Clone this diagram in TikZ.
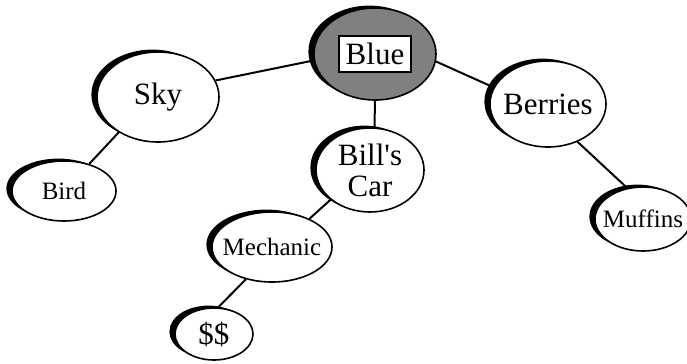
\documentclass[tikz,border=0pt]{standalone}
\usepackage{fontspec}
\setmainfont{Liberation Serif}
\usetikzlibrary{shapes,shadows}
\usetikzlibrary{positioning,calc}

\begin{document}
\begin{tikzpicture}[x=0.5pt,y=-0.5pt,every text node part/.style={align=center}]
\tikzset{bigFont/.style={font=\fontsize{15.5}{15.5}\selectfont}}
\tikzset{smallFont/.style={font=\fontsize{12.5}{13}\selectfont}}
\tikzset{myBubble/.style={ellipse,draw,line width=0.8pt,fill=white,inner sep=0pt,inner xsep=-15pt,general shadow={fill=black,shadow xshift=-2.8pt,shadow yshift=1.2pt}}}
\tikzset{myGray/.style={fill=black!50}}
\tikzset{myEdge/.style={line width=1pt}}

\useasboundingbox (0,0) rectangle (687,364);

\node[myBubble,myGray,minimum width=61pt,minimum height=46pt] (blue) at (375,54) {};
\node[draw,fill=white,line width=0.8pt,bigFont,minimum width=36pt,minimum height=18pt,inner sep=0pt] (blueBox) at (blue.center) {Blue};

\node[myBubble,bigFont,minimum width=61pt,minimum height=45pt] (sky) at ([shift={(-217,43)}]blue.center) {Sky};
\node[myBubble,bigFont,minimum width=58pt,minimum height=43pt] (berries) at ([shift={(173,50)}]blue.center) {Berries};
\node[myBubble,bigFont,minimum width=54pt,minimum height=42pt] (bill) at ([shift={(-5,116)}]blue.center) {Bill\textquotesingle s\\Car};

\node[myBubble,smallFont,minimum width=52pt,minimum height=30pt] (bird) at ([shift={(-94,94)}]sky.center) {Bird};
\node[myBubble,smallFont,minimum width=60pt,minimum height=35pt] (mechanic) at ([shift={(-98,77)}]bill.center) {Mechanic};
\node[myBubble,bigFont,minimum width=39pt,minimum height=26pt] (money) at ([shift={(-58,87)}]mechanic.center) {\$\$};
\node[myBubble,smallFont,minimum width=48pt,minimum height=32pt] (muffins) at ([shift={(95,115)}]berries.center) {Muffins};

\draw[myEdge] (sky.16) -- (blue.186);
\draw[myEdge] (blue.353) -- (berries.163);
\draw[myEdge] (blue.270) -- (bill.84);
\draw[myEdge] (sky.222) -- (bird.47);
\draw[myEdge] (bill.217) -- (mechanic.37);
\draw[myEdge] (mechanic.231) -- (money.81);
\draw[myEdge] (berries.308) -- (muffins.117);
\end{tikzpicture}
\end{document}
